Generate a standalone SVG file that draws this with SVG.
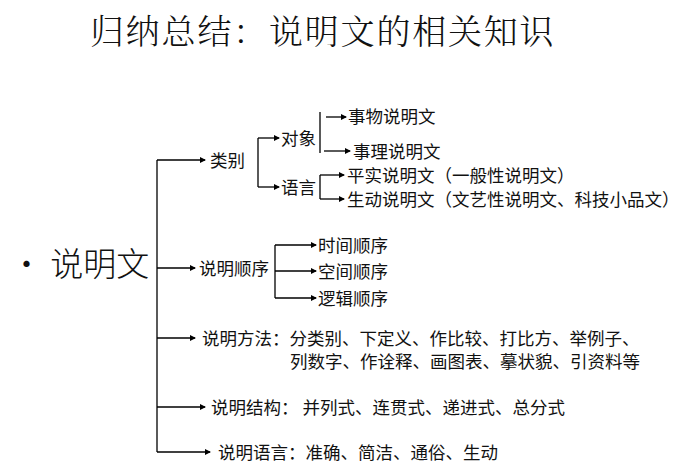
<svg xmlns="http://www.w3.org/2000/svg" width="700" height="470" viewBox="0 0 700 470">
<defs>
<marker id="a" markerWidth="6" markerHeight="6" refX="5" refY="3" orient="auto" markerUnits="userSpaceOnUse"><path d="M0,0 L6,3 L0,6 z" fill="#000"/></marker>
<style>
text{font-family:"Noto Sans CJK SC",sans-serif;fill:#111}
.t{font-size:17.5px}
.c path{stroke:#000;stroke-width:1.3;fill:none}
.r{marker-end:url(#a)}
</style>
</defs>
<rect width="700" height="470" fill="#fff"/>
<text x="90" y="44" style="font-size:34px;letter-spacing:1.8px;font-family:'Noto Serif CJK SC','Noto Sans CJK SC',serif;font-weight:300">归纳总结：说明文的相关知识</text>
<g id="root"><text x="10" y="276" style="font-size:33px;font-weight:300">• 说明文</text></g>
<g class="c" id="connectors">
<path d="M157,160 V452"/>
<path class="r" d="M157,160 H205"/>
<path class="r" d="M157,268 H195"/>
<path class="r" d="M157,338 H195"/>
<path class="r" d="M157,407 H205"/>
<path class="r" d="M157,452 H210"/>
<path d="M258,138 V187"/>
<path class="r" d="M258,138 H279"/>
<path class="r" d="M258,187 H279"/>
<path d="M320,112 V153"/>
<path class="r" d="M326,117 H346"/>
<path class="r" d="M324,151 H350"/>
<path class="r" d="M320,175 H344"/>
<path d="M320,175 V199"/>
<path class="r" d="M320,199 H344"/>
<path d="M275,245 V298"/>
<path class="r" d="M275,245 H316"/>
<path class="r" d="M275,271 H316"/>
<path class="r" d="M275,298 H316"/>
</g>
<g id="leibie"><text class="t" x="210" y="167">类别</text></g>
<g id="duixiang"><text class="t" x="281" y="145">对象</text></g>
<g id="yuyan"><text class="t" x="281" y="194">语言</text></g>
<g id="shiwu"><text class="t" x="348" y="123">事物说明文</text></g>
<g id="shili"><text class="t" x="353" y="158">事理说明文</text></g>
<g id="pingshi"><text class="t" x="347" y="182">平实说明文（一般性说明文）</text></g>
<g id="shengdong"><text class="t" x="347" y="206">生动说明文（文艺性说明文、科技小品文）</text></g>
<g id="shunxu"><text class="t" x="199" y="275">说明顺序</text></g>
<g id="shijian"><text class="t" x="318" y="252">时间顺序</text></g>
<g id="kongjian"><text class="t" x="318" y="278">空间顺序</text></g>
<g id="luoji"><text class="t" x="318" y="305">逻辑顺序</text></g>
<g id="fangfa"><text class="t" x="202" y="345">说明方法：分类别、下定义、作比较、打比方、举例子、</text><text class="t" x="290" y="368">列数字、作诠释、画图表、摹状貌、引资料等</text></g>
<g id="jiegou"><text class="t" x="211" y="414">说明结构： 并列式、连贯式、递进式、总分式</text></g>
<g id="yuyan2"><text class="t" x="218" y="459">说明语言：准确、简洁、通俗、生动</text></g>
</svg>
